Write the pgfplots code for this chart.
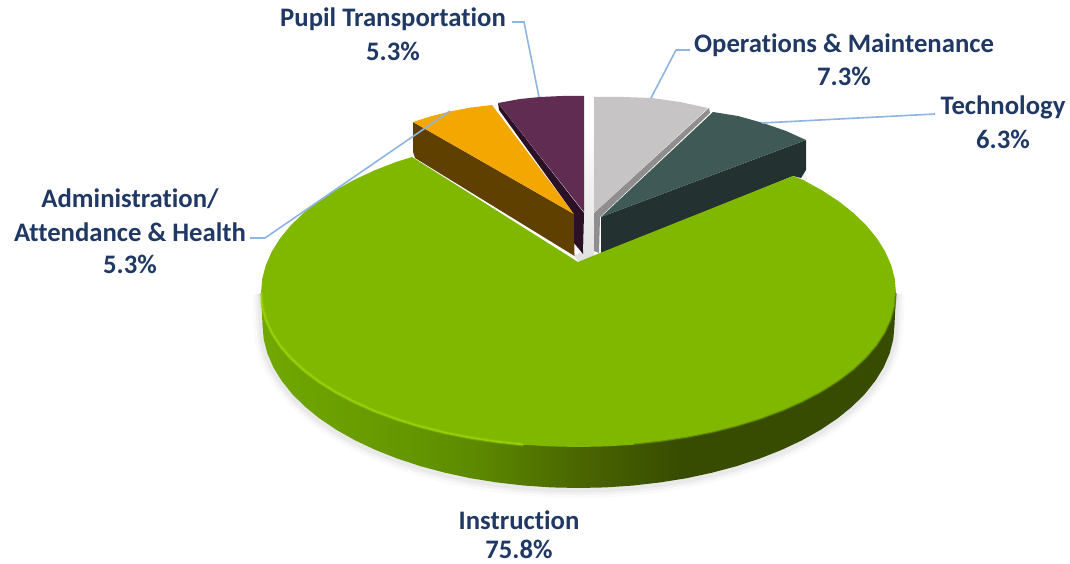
\documentclass[border=0pt]{standalone}
\usepackage{pgfplots}
\usepackage{pgfplotstable}
\pgfplotsset{compat=1.18}
\usepackage{fontspec}
\setmainfont[Ligatures={NoCommon,TeX}]{Carlito}
\definecolor{lab}{HTML}{1F3864}
\definecolor{lead}{HTML}{8DB4E2}
\definecolor{gtop}{HTML}{80B800}
\definecolor{grim}{HTML}{9CD80A}
\definecolor{orng}{HTML}{F4A700}
\definecolor{orsd}{HTML}{604000}
\definecolor{purp}{HTML}{612C51}
\definecolor{pusd}{HTML}{2B1126}
\definecolor{gryt}{HTML}{C6C4C5}
\definecolor{grys}{HTML}{8F8D8E}
\definecolor{tect}{HTML}{3F5956}
\definecolor{tecs}{HTML}{233231}
\definecolor{sa}{HTML}{71A800}
\definecolor{sb}{HTML}{659800}
\definecolor{sc}{HTML}{5C8900}
\definecolor{sd}{HTML}{4A6600}
\definecolor{se}{HTML}{384C00}
\pgfdeclarehorizontalshading{sideshade}{100bp}{color(0bp)=(sa);color(25bp)=(sa);color(36bp)=(sb);color(42bp)=(sc);color(50bp)=(sd);color(58bp)=(se);color(75bp)=(se);color(100bp)=(se)}
\newcommand{\lb}[3]{\node[text=lab,font=\fontsize{26.7}{26.7}\selectfont\bfseries,inner sep=0pt,anchor=center] at (axis cs:#1,#2) {#3};}
\pgfplotstableread{
x y
261 293
262.5 325
263.7 339.2
267.3 353.3
273.3 367.2
281.6 380.7
292.1 393.9
304.8 406.5
319.6 418.5
336.4 429.8
355 440.3
375.4 449.9
397.2 458.5
420.5 466.2
445 472.7
470.4 478.2
496.7 482.4
523.6 485.5
551 487.4
578.5 488
606 487.4
633.4 485.5
660.3 482.4
686.6 478.2
712 472.7
736.5 466.2
759.8 458.5
781.6 449.9
802 440.3
820.6 429.8
837.4 418.5
852.2 406.5
864.9 393.9
875.4 380.7
883.7 367.2
889.7 353.3
893.3 339.2
894.5 325
896 293
}\sideedge
\pgfplotstableread{
x y
412 157
396.4 161.9
374.4 170.4
354 179.9
335.3 190.2
318.4 201.2
303.5 213
290.7 225.4
280.1 238.3
271.8 251.6
265.8 265.2
262.2 279
261 293
262.2 306.4
265.8 319.7
271.8 332.9
280.1 345.7
290.7 358.1
303.5 370
318.4 381.3
335.3 392
354 401.9
374.4 411
396.4 419.2
419.7 426.4
444.3 432.6
469.9 437.7
496.3 441.7
523.4 444.7
550.8 446.4
578.5 447
606.2 446.4
633.6 444.7
660.7 441.7
687.1 437.7
712.7 432.6
737.3 426.4
760.6 419.2
782.6 411
803 401.9
821.7 392
838.6 381.3
853.5 370
866.3 358.1
876.9 345.7
885.2 332.9
891.2 319.7
894.8 306.4
896 293
894.8 279
891.2 265.2
885.2 251.6
876.9 238.3
866.3 225.4
853.5 213
838.6 201.2
821.7 190.2
803 179.9
793 176
600 253
578 262
}\topface
\pgfplotstableread{
x y
261 293
262.2 306.4
265.8 319.7
271.8 332.9
280.1 345.7
290.7 358.1
303.5 370
318.4 381.3
335.3 392
354 401.9
374.4 411
396.4 419.2
419.7 426.4
444.3 432.6
469.9 437.7
496.3 441.7
523.4 444.7
}\rimleft
\pgfplotstableread{
x y
633.6 444.7
660.7 441.7
687.1 437.7
712.7 432.6
737.3 426.4
760.6 419.2
782.6 411
803 401.9
821.7 392
838.6 381.3
853.5 370
866.3 358.1
876.9 345.7
885.2 332.9
891.2 319.7
894.8 306.4
896 293
}\rimright
\begin{document}
\begin{tikzpicture}
\begin{axis}[hide axis,scale only axis,width=1070pt,height=564pt,xmin=0,xmax=1070,ymin=0,ymax=564,y dir=reverse,clip=false]
\path[use as bounding box] (rel axis cs:0,0) rectangle (rel axis cs:1,1);
% soft shadow
\addplot[draw=black,opacity=0.02,line width=18pt,line join=round,yshift=-1pt] table {\sideedge};
\addplot[draw=black,opacity=0.03,line width=12pt,line join=round,yshift=-1pt] table {\sideedge};
\addplot[draw=black,opacity=0.04,line width=7pt,line join=round,yshift=-1pt] table {\sideedge};
\addplot[draw=black,opacity=0.05,line width=7pt] coordinates {(806,176)(796,183)};
% centre gap shadow
\addplot[draw=none,top color=white,bottom color=black!12] coordinates {(584,125)(594,125)(594,255)(600,255)(579,262)(574,256)(584,250)} --cycle;
% orange slice
\addplot[draw=none,fill=orsd] coordinates {(413,122)(574,214)(574.5,256)(415,158)(413,152)} --cycle;
\addplot[draw=none,fill=orng] coordinates {(413,122)(432,116)(450,111.5)(471,107.5)(492,105)(574,214)} --cycle;
% purple slice
\addplot[draw=none,fill=pusd] coordinates {(498,103)(584,213)(583,254)(574,243)(574,214)(499,110)} --cycle;
\addplot[draw=none,fill=purp] coordinates {(498,103)(520,99)(540,97)(562,96)(584,96)(584,212)} --cycle;
% grey slice
\addplot[draw=none,fill=grys] coordinates {(709,108)(710,113)(600,217)(599,253)(594,251)(594,213)} --cycle;
\addplot[draw=none,fill=gryt] coordinates {(594,97)(623,97)(652,98)(680,102)(708,108)(594,213)} --cycle;
% technology slice
\addplot[draw=none,fill=tecs] coordinates {(806,140)(601,217)(601,254)(793,176)(801,178)(806,170)} --cycle;
\addplot[draw=none,fill=tect] coordinates {(713,112)(738,116)(763,123)(786,131)(806,140)(601,217)} --cycle;
% instruction side
\addplot[draw=none,shading=sideshade] table {\sideedge} --cycle;
% instruction top
\addplot[draw=none,fill=gtop] table {\topface} --cycle;
% rim highlight
\addplot[draw=grim,line width=3.5pt,opacity=0.35] table {\rimleft};
\addplot[draw=grim,line width=1.5pt,opacity=0.8] table {\rimleft};
\addplot[draw=black!45!gtop,line width=2pt,opacity=0.45] table {\rimright};
% leader lines
\addplot[draw=lead,line width=1.6pt] coordinates {(512,22)(524,22)(539,97)};
\addplot[draw=lead,line width=1.6pt] coordinates {(651,98)(676,50)(690,50)};
\addplot[draw=lead,line width=1.6pt] coordinates {(762,123)(935,114)};
\addplot[draw=lead,line width=1.6pt] coordinates {(450,111)(265,238)(250,238)};
% labels
\lb{393}{19}{Pupil Transportation}
\lb{393}{51}{5.3\%}
\lb{844}{45}{Operations \& Maintenance}
\lb{844}{76}{7.3\%}
\lb{1003}{107}{Technology}
\lb{1003}{139}{6.3\%}
\lb{130}{199}{Administration/}
\lb{130}{232}{Attendance \& Health}
\lb{130}{264}{5.3\%}
\lb{519}{520}{Instruction}
\lb{519}{549}{75.8\%}
\end{axis}
\end{tikzpicture}
\end{document}
